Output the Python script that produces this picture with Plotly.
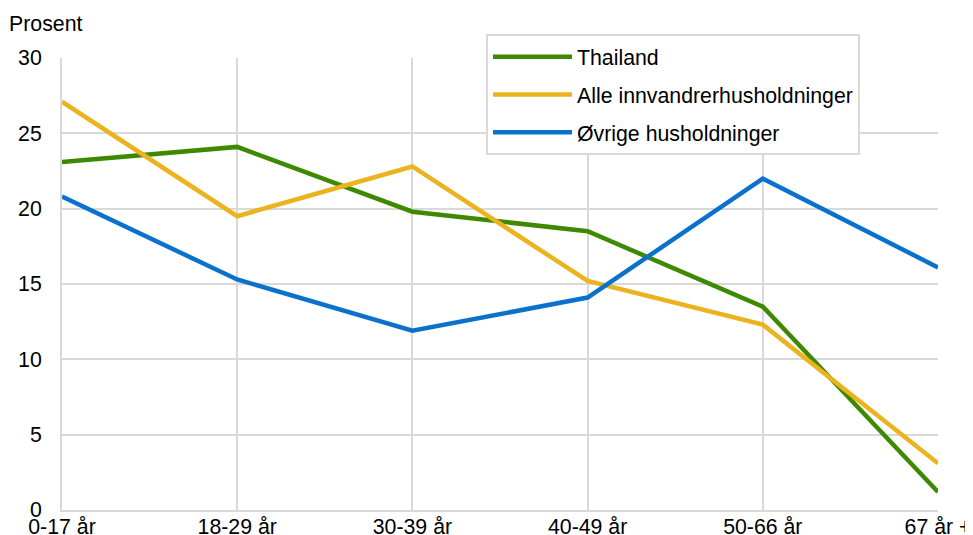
import plotly.graph_objects as go

categories = ["0-17 år", "18-29 år", "30-39 år", "40-49 år", "50-66 år", "67 år +"]
thailand = [23.1, 24.1, 19.8, 18.5, 13.5, 1.2]
alle_innvandrer = [27.1, 19.5, 22.8, 15.2, 12.3, 3.1]
ovrige = [20.8, 15.3, 11.9, 14.1, 22.0, 16.1]
y_ticks = [0, 5, 10, 15, 20, 25, 30]

series = [
    ("Thailand", thailand, "#3d8a00"),
    ("Alle innvandrerhusholdninger", alle_innvandrer, "#ebb31d"),
    ("Øvrige husholdninger", ovrige, "#0b72cc"),
]

FS = 21.3
FAM = "Liberation Sans, Arial, sans-serif"

fig = go.Figure()
for i, (name, vals, col) in enumerate(series):
    fig.add_trace(go.Scatter(
        x=categories, y=vals, name=name, mode="lines",
        line=dict(color=col, width=4.5), legendgroup=f"g{i}",
    ))

font = dict(family=FAM, size=FS, color="#000000")
grid = "#d9d9d9"

# page body has an 8px offset; margins compensate so the plot lands where the reference has it
fig.update_layout(
    width=973, height=535,
    margin=dict(l=54, r=43, t=50, b=33, autoexpand=False),
    paper_bgcolor="white", plot_bgcolor="white",
    font=font,
    showlegend=True,
    legend=dict(
        x=0.484, y=1.052, xanchor="left", yanchor="top",
        bgcolor="white", bordercolor=grid, borderwidth=2,
        font=dict(family=FAM, size=FS, color="#000000"),
        traceorder="grouped", tracegroupgap=7,
        itemwidth=79,
    ),
    xaxis=dict(
        type="category", range=[0, len(categories) - 1],
        showgrid=True, gridcolor=grid, gridwidth=2,
        showline=True, linecolor=grid, linewidth=2,
        ticks="", tickfont=dict(family=FAM, size=FS), zeroline=False,
        automargin=False, ticklabelstandoff=-4,
    ),
    yaxis=dict(
        range=[0, 30], tickvals=y_ticks,
        showgrid=True, gridcolor=grid, gridwidth=2,
        showline=True, linecolor=grid, linewidth=2,
        ticks="", ticklabelstandoff=14, zeroline=False,
        automargin=False, tickfont=dict(family=FAM, size=FS),
    ),
    annotations=[dict(
        text="Prosent", xref="paper", yref="paper", x=-0.0623, y=1.075,
        xanchor="left", yanchor="middle", showarrow=False,
        font=dict(family=FAM, size=FS, color="#000000"),
    )],
)

fig.write_html("out.html")
